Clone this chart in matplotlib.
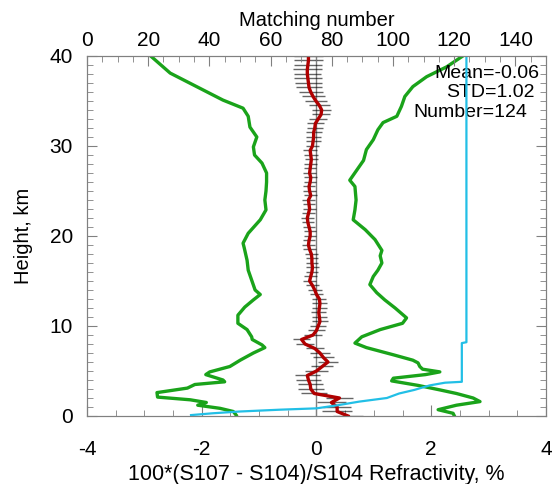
import numpy as np
import matplotlib.pyplot as plt
from matplotlib.ticker import MultipleLocator

plt.rcParams['font.family'] = ['Liberation Sans', 'DejaVu Sans']
plt.rcParams['axes.unicode_minus'] = False

# mean difference profile on a 0.5 km grid
height = np.arange(0, 40.01, 0.5)
mean_diff = [0.55, 0.36, 0.36, 0.26, 0.40, -0.04, -0.10, -0.11, -0.14, -0.16,
             0.00, 0.10, 0.20, 0.12, 0.06, -0.03, -0.20, -0.26, -0.06, 0.00,
             0.03, 0.06, 0.05, 0.04, 0.05, 0.06, 0.05, 0.00, -0.03, -0.07,
             -0.12, -0.10, -0.08, -0.07, -0.08, -0.08, -0.09, -0.12, -0.14, -0.13,
             -0.11, -0.11, -0.13, -0.15, -0.16, -0.14, -0.12, -0.13, -0.14, -0.10,
             -0.12, -0.13, -0.11, -0.10, -0.12, -0.11, -0.10, -0.09, -0.10, -0.11,
             -0.07, -0.06, -0.05, -0.05, -0.03, -0.02, 0.03, 0.08, 0.09, 0.05,
             -0.01, -0.06, -0.10, -0.13, -0.14, -0.15, -0.16, -0.16, -0.15, -0.14,
             -0.14]
err_diff = [0.26, 0.26, 0.25, 0.25, 0.24, 0.23, 0.23, 0.22, 0.22, 0.22,
            0.20, 0.19, 0.18, 0.18, 0.17, 0.16, 0.16, 0.15, 0.15, 0.14,
            0.14, 0.14, 0.13, 0.13, 0.13, 0.13, 0.12, 0.12, 0.12, 0.12,
            0.11, 0.11, 0.11, 0.11, 0.11, 0.11, 0.11, 0.11, 0.11, 0.11,
            0.11, 0.11, 0.11, 0.11, 0.11, 0.11, 0.11, 0.11, 0.11, 0.11,
            0.11, 0.11, 0.11, 0.11, 0.11, 0.11, 0.11, 0.11, 0.12, 0.12,
            0.12, 0.13, 0.13, 0.14, 0.14, 0.15, 0.16, 0.16, 0.17, 0.18,
            0.19, 0.20, 0.21, 0.22, 0.23, 0.24, 0.24, 0.25, 0.25, 0.25,
            0.25]

# mean - std envelope
h_left = [0.1, 0.5, 0.85, 1.2, 1.5, 1.8, 2.1, 2.6, 3.1, 3.5, 3.8, 4.0, 4.6, 4.9,
          5.5, 6.2, 7.0, 7.6, 7.9, 8.5, 8.8, 9.6, 10.3, 11.2, 12.1, 12.9, 13.5,
          14.0, 15.1, 16.2, 17.3, 18.7, 19.2, 20.3, 21.8, 22.9, 24.0, 25.0, 26.0,
          27.0, 28.1, 29.0, 29.9, 31.0, 32.1, 33.3, 34.2, 35.1, 36.6, 38.1, 40.0]
std_left = [-1.40, -1.45, -1.68, -2.07, -1.92, -2.20, -2.77, -2.78, -2.25, -2.12,
            -1.60, -1.63, -1.93, -1.86, -1.51, -1.33, -1.10, -0.90, -0.95, -1.12,
            -1.13, -1.21, -1.37, -1.37, -1.25, -1.10, -0.98, -1.07, -1.13, -1.19,
            -1.21, -1.26, -1.28, -1.19, -0.98, -0.88, -0.90, -0.88, -0.87, -0.87,
            -0.95, -1.08, -1.10, -1.04, -1.16, -1.19, -1.28, -1.63, -2.09, -2.55,
            -2.89]

# mean + std envelope
h_right = [0.05, 0.3, 0.7, 1.2, 1.6, 2.0, 2.5, 2.9, 3.4, 3.9, 4.2, 4.6, 4.9, 5.2,
           5.5, 5.9, 6.2, 6.8, 7.6, 8.1, 8.8, 9.6, 10.3, 10.9, 12.0, 12.9, 13.7,
           14.6, 15.5, 16.2, 17.0, 17.8, 18.4, 19.6, 20.7, 21.8, 22.9, 24.0, 25.5,
           26.2, 27.3, 28.4, 29.6, 30.7, 31.8, 32.6, 33.3, 34.4, 35.5, 36.6, 37.7,
           38.8, 40.0]
std_right = [2.40, 2.38, 2.12, 2.44, 2.85, 2.73, 2.44, 2.15, 1.77, 1.31, 1.34,
             1.90, 2.15, 1.85, 1.80, 1.77, 1.68, 1.34, 0.87, 0.67, 0.79, 1.11,
             1.50, 1.57, 1.37, 1.19, 1.05, 0.93, 0.99, 1.07, 1.14, 1.11, 1.14,
             1.02, 0.85, 0.64, 0.67, 0.69, 0.67, 0.58, 0.70, 0.82, 0.87, 0.99,
             1.07, 1.16, 1.40, 1.48, 1.54, 1.68, 1.92, 2.27, 2.55]

# matching number vs height
h_num = [0.1, 0.3, 0.5, 0.7, 0.85, 1.2, 1.6, 2.0, 2.5, 2.9, 3.4, 3.7, 3.8,
         8.1, 8.2, 40.0]
match_num = [34, 41, 50, 63, 75, 82, 89, 98, 102, 107, 112, 117, 122.5,
             122.5, 124, 124]

fig = plt.figure(figsize=(5.52, 4.84), dpi=100)
ax = fig.add_axes([0.1576, 0.1405, 0.8315, 0.7438])

ax.axvline(0, color='gray', lw=1)
ax.errorbar(mean_diff, height, xerr=err_diff, fmt='none', ecolor='black',
            elinewidth=1, alpha=0.6)
ax.plot(mean_diff, height, color='#b00000', lw=2.4)
ax.plot(std_left, h_left, color='#1aa31a', lw=2.4)
ax.plot(std_right, h_right, color='#1aa31a', lw=2.4)

ax.set_xlim(-4, 4)
ax.set_ylim(0, 40)
ax.xaxis.set_major_locator(MultipleLocator(2))
ax.xaxis.set_minor_locator(MultipleLocator(0.5))
ax.yaxis.set_major_locator(MultipleLocator(10))
ax.yaxis.set_minor_locator(MultipleLocator(1))
ax.tick_params(which='both', direction='in', right=True, colors='gray',
               labelcolor='black', labelsize=15)
ax.tick_params(axis='x', which='major', length=8, pad=17)
ax.tick_params(axis='y', which='major', length=7, pad=10)
ax.tick_params(which='minor', length=4)
ax.set_xlabel('100*(S107 - S104)/S104 Refractivity, %', fontsize=15.5, labelpad=4)
ax.set_ylabel('Height, km', fontsize=14.5, labelpad=12)
for s in ax.spines.values():
    s.set_color('gray')

ax2 = ax.twiny()
ax2.plot(match_num, h_num, color='#22bfe6', lw=1.6)
ax2.set_xlim(0, 150)
ax2.xaxis.set_major_locator(MultipleLocator(20))
ax2.xaxis.set_minor_locator(MultipleLocator(5))
ax2.set_xticks(np.arange(0, 141, 20))
ax2.tick_params(which='both', direction='in', colors='gray',
                labelcolor='black', labelsize=15, pad=4)
ax2.tick_params(which='major', length=7)
ax2.tick_params(which='minor', length=4)
ax2.set_xlabel('Matching number', fontsize=14.5, labelpad=4)
for s in ax2.spines.values():
    s.set_color('gray')

ax.text(3.89, 38.1, 'Mean=-0.06', ha='right', va='center', fontsize=14)
ax.text(3.81, 35.9, 'STD=1.02', ha='right', va='center', fontsize=14)
ax.text(3.67, 33.7, 'Number=124', ha='right', va='center', fontsize=14)

fig.savefig('out.png', dpi=100)
